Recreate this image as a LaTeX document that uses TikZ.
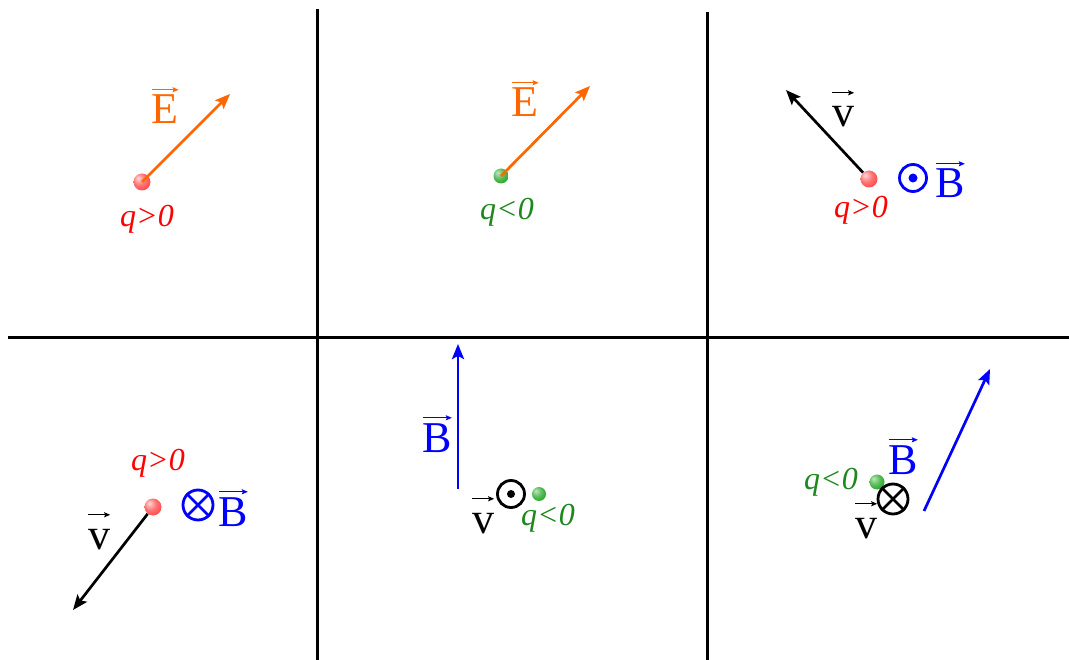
\documentclass[tikz,border=0pt]{standalone}
\usepackage{fontspec}
\setmainfont{Liberation Serif}
\usetikzlibrary{arrows.meta}
\definecolor{eorange}{RGB}{255,102,0}
\definecolor{qgreen}{RGB}{30,135,30}
\definecolor{qred}{RGB}{255,0,0}
\pgfdeclareradialshading{redball}{\pgfpoint{-12bp}{12bp}}{color(0bp)=(red!15);color(18bp)=(red!55);color(45bp)=(red!85);color(60bp)=(red!90)}
\pgfdeclareradialshading{greenball}{\pgfpoint{-12bp}{12bp}}{color(0bp)=(green!60!black!25);color(18bp)=(green!60!black!65);color(45bp)=(green!55!black);color(60bp)=(green!50!black)}
\newcommand\oarr[2]{\draw[overarr,#2] ([xshift=1.5pt,yshift=4pt]#1.north west) -- ([xshift=-1pt,yshift=4pt]#1.north east);}
\tikzset{
  grid/.style={line width=3pt,black},
  vec/.style={line width=2.7pt,-{Stealth[length=15pt,width=12pt,inset=3pt]}},
  overarr/.style={line width=1.3pt,-{Stealth[length=6pt,width=5pt,inset=1pt]}},
  posq/.style={circle,inner sep=0pt,minimum size=17pt,shading=redball},
  negq/.style={circle,inner sep=0pt,minimum size=15pt,shading=greenball},
  qlab/.style={font=\fontsize{32}{36}\selectfont\itshape,inner sep=1pt},
  vl/.style={font=\fontsize{44}{48}\selectfont,inner sep=1pt,text height=29pt,anchor=base},
  ring/.style={circle,draw,line width=2.8pt,minimum size=27pt,inner sep=0pt},
}
\begin{document}
\begin{tikzpicture}[x=1pt,y=-1pt]
\useasboundingbox (0,0) rectangle (1069,660);
% grid
\coordinate (h1) at (8,338); \coordinate (h2) at (1069,338);
\coordinate (va1) at (317,9); \coordinate (va2) at (317,660);
\coordinate (vb1) at (707,12); \coordinate (vb2) at (707,660);
\draw[grid] (h1) -- (h2);
\draw[grid] (va1) -- (va2);
\draw[grid] (vb1) -- (vb2);

% panel 1
\node[posq] (p1) at (142,182) {};
\coordinate (e1) at (230,94);
\draw[vec,eorange] (p1.center) -- (e1);
\node[qlab,text=qred] (q1) at (147,219) {q>0};
\node[vl,text=eorange] (E1) at (165,124) {E};
\oarr{E1}{eorange}

% panel 2
\node[negq] (p2) at (501,176) {};
\coordinate (e2) at (590,86);
\draw[vec,eorange] (p2.center) -- (e2);
\node[qlab,text=qgreen] (q2) at (507,212) {q<0};
\node[vl,text=eorange] (E2) at (525,117) {E};
\oarr{E2}{eorange}

% panel 3
\node[posq] (p3) at (869,179) {};
\coordinate (v3) at (786,90);
\draw[vec,black] (p3) -- (v3);
\node[vl] (V3) at (843,127) {v};
\oarr{V3}{black}
\node[qlab,text=qred] (q3) at (861,210) {q>0};
\node[ring,blue] (o3) at (913,178) {};
\fill[blue] (o3.center) circle (4.5pt);
\node[vl,text=blue] (B3) at (950,198) {B};
\oarr{B3}{blue}

% panel 4
\node[posq] (p4) at (153,507) {};
\coordinate (v4) at (73,610);
\draw[vec,black] (p4) -- (v4);
\node[vl] (V4) at (99,549) {v};
\oarr{V4}{black}
\node[qlab,text=qred] (q4) at (158,463) {q>0};
\node[ring,blue,minimum size=30pt] (x4) at (198,505) {};
\draw[blue,line width=2.8pt] (x4.north east) -- (x4.south west) (x4.north west) -- (x4.south east);
\node[vl,text=blue] (B4) at (233,526) {B};
\oarr{B4}{blue}

% panel 5
\coordinate (b5s) at (458,489);
\coordinate (b5e) at (458,344);
\draw[vec,blue] (b5s) -- (b5e);
\node[vl,text=blue] (B5) at (437,452) {B};
\oarr{B5}{blue}
\node[ring] (o5) at (511,494) {};
\fill (o5.center) circle (4pt);
\node[negq,minimum size=14pt] (p5) at (539,494) {};
\node[vl] (V5) at (483,533) {v};
\oarr{V5}{black}
\node[qlab,text=qgreen] (q5) at (548,518) {q<0};

% panel 6
\coordinate (b6s) at (924,511);
\coordinate (b6e) at (990,369);
\draw[vec,blue] (b6s) -- (b6e);
\node[vl,text=blue] (B6) at (903,474) {B};
\oarr{B6}{blue}
\node[negq] (p6) at (877,482) {};
\node[qlab,text=qgreen] (q6) at (831,482) {q<0};
\node[ring,minimum size=30pt] (x6) at (893,499) {};
\draw[line width=2.8pt] (x6.north east) -- (x6.south west) (x6.north west) -- (x6.south east);
\node[vl] (V6) at (866,538) {v};
\oarr{V6}{black}
\end{tikzpicture}
\end{document}
